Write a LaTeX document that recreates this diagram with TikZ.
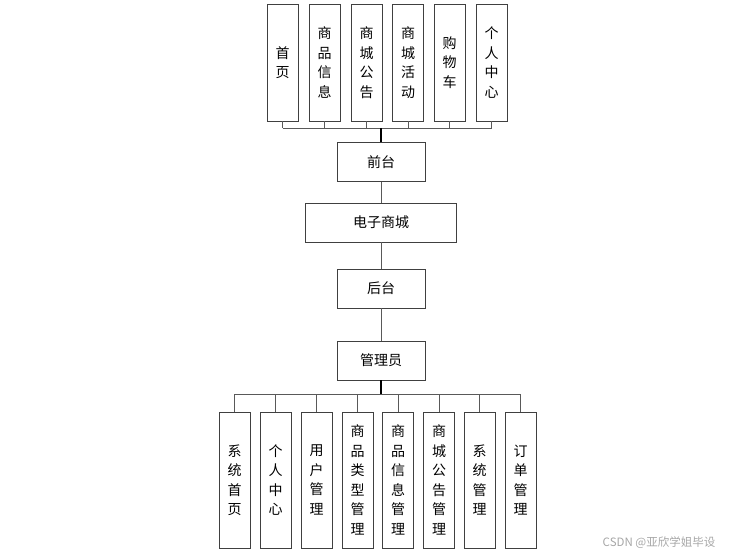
\documentclass[tikz,border=0pt]{standalone}
\usepackage{fontspec}
\setmainfont{Noto Sans CJK SC}
\usetikzlibrary{positioning}

\tikzset{
  box/.style={draw=black!75, line width=0.9pt, minimum width=88, minimum height=39,
    inner sep=0pt, font=\fontsize{14}{16}\selectfont},
  tallbox/.style={draw=black!75, line width=0.9pt, minimum width=31, inner sep=0pt,
    align=center, font=\fontsize{14}{19.5}\selectfont},
  link/.style={draw=black!65, line width=0.8pt},
  trunk/.style={draw=black, line width=1.8pt}
}

\begin{document}
\begin{tikzpicture}[x=1pt, y=-1pt]
  \useasboundingbox (0,0) rectangle (733,556);

  % front end
  \foreach \x/\t [count=\i] in {282.5/{首\\页}, 324.5/{商\\品\\信\\息},
      366.5/{商\\城\\公\\告}, 408/{商\\城\\活\\动}, 449.5/{购\\物\\车},
      491.5/{个\\人\\中\\心}}
    \node[tallbox, minimum height=117] (t\i) at (\x,62.5) {\t};

  \node[box] (front) at (381,162) {前台};
  \node[box, minimum width=151] (mall) at (381,222.5) {电子商城};
  \node[box] (back) at (381,288.5) {后台};
  \node[box] (admin) at (381,360.5) {管理员};

  % back end
  \foreach \x/\t [count=\i] in {234.5/{系\\统\\首\\页}, 275.5/{个\\人\\中\\心},
      316.5/{用\\户\\管\\理}, 357.5/{商\\品\\类\\型\\管\\理},
      398/{商\\品\\信\\息\\管\\理}, 439/{商\\城\\公\\告\\管\\理},
      479.5/{系\\统\\管\\理}, 520.5/{订\\单\\管\\理}}
    \node[tallbox, minimum height=136] (b\i) at (\x,480) {\t};

  \coordinate (topbus) at (381,128);
  \coordinate (lowbus) at (381,394);

  \foreach \i in {1,...,6}
    \draw[link] (t\i.south) -- (t\i.south |- topbus);
  \draw[link] (t1.south |- topbus) -- (t6.south |- topbus);
  \draw[trunk] (topbus) -- (front.north);

  \draw[link] (front) -- (mall);
  \draw[link] (mall) -- (back);
  \draw[link] (back) -- (admin);

  \draw[trunk] (admin.south) -- (lowbus);
  \draw[link] (b1.north |- lowbus) -- (b8.north |- lowbus);
  \foreach \i in {1,...,8}
    \draw[link] (b\i.north |- lowbus) -- (b\i.north);

  \node[text=black!35, font=\fontsize{11.5}{13}\selectfont] (mark) at (659,543) {CSDN @亚欣学姐毕设};
\end{tikzpicture}
\end{document}
